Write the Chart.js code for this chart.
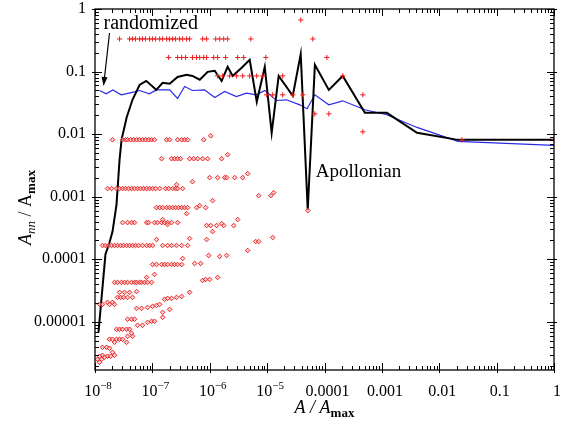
<!DOCTYPE html>
<html>
<head>
<meta charset="utf-8">
<script src="https://cdn.jsdelivr.net/npm/chart.js@4/dist/chart.umd.min.js"></script>
<style>
body{margin:0;background:#fff;}
#c{display:block;}
</style>
</head>
<body>
<canvas id="c" width="566" height="428"></canvas>
<script>
// axis ticks
var xTickVals = [1e-8, 1e-7, 1e-6, 1e-5, 1e-4, 1e-3, 1e-2, 1e-1, 1];
var xTickLabels = ['10^-8', '10^-7', '10^-6', '10^-5', '0.0001', '0.001', '0.01', '0.1', '1'];
var yTickVals = [1, 0.1, 0.01, 0.001, 0.0001, 0.00001];
var yTickLabels = ['1', '0.1', '0.01', '0.001', '0.0001', '0.00001'];

// black curve (Apollonian)
var blackX = [1.15e-8, 1.52e-8, 1.79e-8, 2.02e-8, 2.37e-8, 2.68e-8, 2.9e-8, 3.55e-8, 4.5e-8, 5.98e-8,
  7.8e-8, 1.17e-7, 1.51e-7, 2.0e-7, 2.75e-7, 3.95e-7, 5.0e-7, 6.7e-7, 9.2e-7, 1.22e-6,
  1.61e-6, 2.05e-6, 2.51e-6, 3.6e-6, 4.97e-6, 6.6e-6, 9.1e-6, 1.2e-5, 1.59e-5, 2.8e-5,
  3.85e-5, 5.1e-5, 6.8e-5, 1.19e-4, 2.08e-4, 5.05e-4, 1.22e-3, 4.1e-3, 2.12e-2, 1];
var blackY = [6.8e-6, 1.19e-4, 1.85e-4, 2.77e-4, 7.5e-4, 3.9e-3, 8.1e-3, 1.83e-2, 3.54e-2, 6.1e-2,
  7.1e-2, 5.1e-2, 6.6e-2, 6.4e-2, 8.2e-2, 8.9e-2, 8.5e-2, 7.4e-2, 9.9e-2, 0.103,
  7.1e-2, 0.119, 8.5e-2, 0.115, 0.154, 3.29e-2, 0.119, 1.05e-2, 8.5e-2, 4.1e-2,
  0.191, 6.2e-4, 0.128, 5.1e-2, 8.5e-2, 2.19e-2, 2.19e-2, 1.05e-2, 8.1e-3, 8.1e-3];

// blue curve (randomized)
var blueX = [1.2e-8, 1.57e-8, 2.05e-8, 2.86e-8, 4.29e-8, 5.98e-8, 8.9e-8, 1.17e-7, 2.0e-7, 2.75e-7,
  3.65e-7, 5.0e-7, 8.1e-7, 1.22e-6, 1.82e-6, 2.91e-6, 4.36e-6, 6.5e-6, 9.1e-6, 1.45e-5,
  2.17e-5, 3.71e-5, 4.97e-5, 6.8e-5, 1.19e-4, 2.08e-4, 5.05e-4, 1.22e-3, 4.1e-3, 2.12e-2, 1];
var blueY = [4.98e-2, 4.41e-2, 5.1e-2, 4.25e-2, 4.62e-2, 4.98e-2, 4.41e-2, 5.1e-2, 5.1e-2, 3.71e-2,
  5.77e-2, 4.98e-2, 5.1e-2, 3.85e-2, 4.8e-2, 3.99e-2, 4.52e-2, 4.25e-2, 5.0e-2, 3.45e-2,
  3.54e-2, 2.94e-2, 2.54e-2, 4.25e-2, 2.94e-2, 3.41e-2, 2.45e-2, 2.04e-2, 1.28e-2, 7.65e-3, 6.6e-3];

// red + markers, grouped by level
var plusLevels = [0.668, 0.332, 0.168, 0.0853, 0.0425, 0.0211, 0.0109, 0.0081];
var plusXByLevel = [
  [3.86e-5],
  [2.68e-8, 4.0e-8, 4.51e-8, 5.09e-8, 5.98e-8, 6.74e-8, 7.6e-8, 8.93e-8, 1.01e-7, 1.14e-7, 1.34e-7,
   1.51e-7, 1.77e-7, 2.0e-7, 2.25e-7, 2.54e-7, 2.98e-7, 3.37e-7, 3.95e-7, 4.46e-7, 7.52e-7, 8.83e-7,
   1.27e-6, 1.49e-6, 1.75e-6, 2.05e-6, 5.2e-6, 6.25e-5],
  [1.92e-7, 2.75e-7, 3.24e-7, 3.8e-7, 5.0e-7, 5.9e-7, 6.67e-7, 7.83e-7, 8.83e-7, 1.17e-6, 1.37e-6,
   1.89e-6, 3.07e-6, 3.9e-6, 9.5e-6, 1.1e-4],
  [1.37e-6, 1.68e-6, 2.22e-6, 2.94e-6, 3.75e-6, 4.97e-6, 6.58e-6, 8.4e-6, 1.87e-5, 2.08e-4],
  [9.8e-6, 1.25e-5, 1.87e-5, 2.8e-5, 4.18e-5, 4.66e-4],
  [6.78e-5, 1.19e-4],
  [4.66e-4],
  [2.49e-2, 1]
];

// red diamond markers: rows with a common level
var diamondLevels = [8.14e-3, 4.05e-3, 2.02e-3, 1.35e-3, 6.7e-4, 3.86e-4, 3.46e-4, 1.66e-4, 8.26e-5, 4.27e-5,
  2.96e-5, 2.46e-5, 2.05e-5, 1.9e-5, 1.1e-5, 7.6e-6, 5.26e-6];
var diamondXByLevel = [
  [2.02e-8, 3.02e-8, 3.4e-8, 3.69e-8, 4.17e-8, 4.7e-8, 5.3e-8, 5.98e-8, 6.74e-8, 7.6e-8, 8.58e-8, 9.68e-8,
   1.09e-7, 1.77e-7, 2.0e-7, 2.75e-7, 3.24e-7, 3.65e-7, 4.11e-7, 7.83e-7],
  [1.45e-7, 2.16e-7, 2.44e-7, 2.75e-7, 3.1e-7, 4.46e-7, 5.24e-7, 6.15e-7, 7.52e-7, 9.18e-7, 1.61e-6],
  [9.95e-7, 1.37e-6, 1.82e-6, 1.97e-6, 2.72e-6, 3.75e-6],
  [1.65e-8, 1.94e-8, 2.37e-8, 2.68e-8, 3.02e-8, 3.4e-8, 3.85e-8, 4.34e-8, 4.89e-8, 5.52e-8, 6.22e-8, 7.02e-8,
   7.92e-8, 8.93e-8, 1.01e-7, 1.14e-7, 1.34e-7, 1.7e-7, 1.92e-7, 2.25e-7, 2.54e-7, 2.75e-7, 3.37e-7],
  [1.18e-7, 1.34e-7, 1.51e-7, 1.77e-7, 2.0e-7, 2.25e-7, 2.54e-7, 2.86e-7, 3.24e-7, 3.65e-7, 4.11e-7, 5.9e-7, 8.48e-7],
  [3.02e-8, 3.69e-8, 4.34e-8, 4.89e-8, 7.92e-8, 8.58e-8, 1.09e-7, 1.23e-7, 1.45e-7, 1.63e-7, 1.84e-7, 2.16e-7, 2.75e-7],
  [8.83e-7, 1.04e-6, 1.32e-6, 1.75e-6, 2.61e-6],
  [1.35e-8, 1.52e-8, 1.72e-8, 1.94e-8, 2.19e-8, 2.47e-8, 2.79e-8, 3.14e-8, 3.55e-8, 4.0e-8, 4.51e-8, 5.09e-8,
   5.74e-8, 6.74e-8, 7.92e-8, 8.93e-8, 1.01e-7, 1.51e-7, 1.84e-7, 2.16e-7, 2.64e-7, 3.24e-7, 4.11e-7],
  [1.01e-7, 1.18e-7, 1.45e-7, 1.63e-7, 1.84e-7, 2.16e-7, 2.44e-7, 2.75e-7, 3.24e-7],
  [2.19e-8, 2.47e-8, 2.9e-8, 3.27e-8, 3.69e-8, 4.34e-8, 4.89e-8, 5.3e-8, 5.98e-8, 6.48e-8, 7.31e-8, 8.24e-8, 9.68e-8],
  [2.68e-8, 3.27e-8, 4.0e-8],
  [2.47e-8, 2.79e-8, 3.14e-8, 3.69e-8, 4.51e-8],
  [1.65e-8, 2.02e-8],
  [1.2e-8, 1.35e-8, 1.79e-8, 2.19e-8],
  [3.69e-8, 4.34e-8, 4.89e-8],
  [2.37e-8, 2.68e-8, 3.02e-8, 3.55e-8, 4.0e-8],
  [1.79e-8, 2.02e-8, 2.37e-8, 2.68e-8, 3.02e-8]
];
// red diamond markers: scattered ones
var diamondExtraX = [1.04e-6, 2.05e-6, 4.58e-6, 2.64e-7, 5.0e-7, 3.95e-7, 1.12e-6, 6.67e-7, 7.13e-6, 1.16e-5,
  1.3e-5, 1.51e-7, 1.84e-7, 1.61e-6, 3.07e-6, 1.12e-6, 1.18e-7, 4.46e-7, 8.83e-7, 6.32e-6,
  7.13e-6, 1.25e-5, 4.58e-6, 3.37e-7, 5.45e-7, 6.93e-7, 9.57e-7, 1.49e-6, 1.97e-6, 1.09e-7,
  7.92e-8, 5.3e-8, 7.52e-7, 8.48e-7, 9.95e-7, 1.37e-6, 1.63e-7, 1.84e-7, 2.16e-7, 2.64e-7,
  3.24e-7, 4.46e-7, 5.3e-8, 6.48e-8, 8.24e-8, 1.01e-7, 1.18e-7, 1.34e-7, 1.51e-7, 2.0e-7,
  1.51e-7, 5.52e-8, 6.74e-8, 8.24e-8, 9.68e-8, 1.09e-7, 4.34e-8, 3.69e-8, 4.51e-8, 2.19e-8,
  3.55e-8, 1.35e-8, 1.59e-8, 1.79e-8, 2.02e-8, 1.65e-8, 1.35e-8, 1.2e-8, 1.11e-8, 1.3e-8,
  1.47e-8, 1.87e-8, 2.19e-8, 1.2e-8, 5.12e-5];
var diamondExtraY = [9.4e-3, 4.69e-3, 2.34e-3, 1.56e-3, 1.74e-3, 5.37e-4, 8.67e-4, 7.21e-4, 1.04e-3, 1.04e-3,
  1.16e-3, 4.31e-4, 3.59e-4, 3.72e-4, 4.31e-4, 2.77e-4, 2.07e-4, 2.15e-4, 2.07e-4, 1.92e-4,
  1.92e-4, 2.23e-4, 1.38e-4, 1.03e-4, 8.57e-5, 8.57e-5, 1.15e-4, 1.11e-4, 1.15e-4, 5.73e-5,
  5.13e-5, 3.06e-5, 4.59e-5, 4.76e-5, 4.76e-5, 5.13e-5, 2.29e-5, 2.37e-5, 2.37e-5, 2.46e-5,
  2.55e-5, 2.96e-5, 1.64e-5, 1.64e-5, 1.7e-5, 1.77e-5, 1.83e-5, 1.9e-5, 1.42e-5, 1.58e-5,
  1.18e-5, 8.8e-6, 8.8e-6, 9.8e-6, 1.02e-5, 1.02e-5, 6.56e-6, 5.87e-6, 5.87e-6, 4.71e-6,
  4.71e-6, 3.92e-6, 3.92e-6, 3.78e-6, 3.26e-6, 2.82e-6, 2.92e-6, 2.82e-6, 2.52e-6, 2.52e-6,
  2.72e-6, 2.82e-6, 2.92e-6, 2.26e-6, 6.0e-4];

var SERIF = "'Liberation Serif', 'Times New Roman', serif";

function pairs(xs, ys){
  return xs.map(function(x, i){ return {x: x, y: ys[i]}; });
}
function byLevel(levels, xsList){
  var out = [];
  levels.forEach(function(lv, i){
    xsList[i].forEach(function(x){ out.push({x: x, y: lv}); });
  });
  return out;
}

var plusPts = byLevel(plusLevels, plusXByLevel);
var diamondPts = byLevel(diamondLevels, diamondXByLevel).concat(pairs(diamondExtraX, diamondExtraY));

function richWidth(ctx, parts){
  var w = 0;
  parts.forEach(function(p){ ctx.font = p.f; w += ctx.measureText(p.t).width; });
  return w;
}
function drawRich(ctx, parts, x, y){
  var cx = x - richWidth(ctx, parts) / 2;
  ctx.textAlign = 'left';
  parts.forEach(function(p){
    ctx.font = p.f;
    ctx.fillText(p.t, cx, y + (p.dy || 0));
    cx += ctx.measureText(p.t).width;
  });
}
function minorVals(min, max){
  var out = [];
  for (var e = Math.floor(Math.log10(min)); e < Math.round(Math.log10(max)); e++){
    for (var m = 2; m < 10; m++){
      var v = m * Math.pow(10, e);
      if (v >= min && v <= max) out.push(v);
    }
  }
  return out;
}

var framePlugin = {
  id: 'frame',
  afterDatasetsDraw: function(chart){
    var ctx = chart.ctx, a = chart.chartArea;
    var xs = chart.scales.x, ys = chart.scales.y;
    ctx.save();
    ctx.strokeStyle = '#000';
    ctx.fillStyle = '#000';
    ctx.lineWidth = 1.3;
    ctx.strokeRect(a.left, a.top, a.right - a.left, a.bottom - a.top);

    ctx.lineWidth = 1;
    ctx.beginPath();
    xTickVals.forEach(function(v){
      var p = Math.round(xs.getPixelForValue(v)) + 0.5;
      ctx.moveTo(p, a.bottom + 3); ctx.lineTo(p, a.bottom - 7);
      ctx.moveTo(p, a.top); ctx.lineTo(p, a.top + 7);
    });
    minorVals(xs.min, xs.max).forEach(function(v){
      var p = Math.round(xs.getPixelForValue(v)) + 0.5;
      ctx.moveTo(p, a.bottom); ctx.lineTo(p, a.bottom - 4);
      ctx.moveTo(p, a.top); ctx.lineTo(p, a.top + 4);
    });
    yTickVals.forEach(function(v){
      var p = Math.round(ys.getPixelForValue(v)) + 0.5;
      ctx.moveTo(a.left - 3, p); ctx.lineTo(a.left + 7, p);
      ctx.moveTo(a.right + 3, p); ctx.lineTo(a.right - 7, p);
    });
    minorVals(ys.min, ys.max).forEach(function(v){
      var p = Math.round(ys.getPixelForValue(v)) + 0.5;
      ctx.moveTo(a.left, p); ctx.lineTo(a.left + 4, p);
      ctx.moveTo(a.right, p); ctx.lineTo(a.right - 4, p);
    });
    ctx.stroke();

    // tick labels
    ctx.textBaseline = 'alphabetic';
    xTickVals.forEach(function(v, i){
      var p = xs.getPixelForValue(v);
      var lab = xTickLabels[i];
      var parts;
      if (lab.indexOf('^') >= 0){
        var s = lab.split('^');
        parts = [{t: s[0], f: '16px ' + SERIF}, {t: s[1].replace('-', '\u2212'), f: '11px ' + SERIF, dy: -7}];
      } else {
        parts = [{t: lab, f: '16px ' + SERIF}];
      }
      drawRich(ctx, parts, p + 3, a.bottom + 26);
    });
    ctx.font = '16px ' + SERIF;
    ctx.textAlign = 'right';
    ctx.textBaseline = 'middle';
    yTickVals.forEach(function(v, i){
      ctx.fillText(yTickLabels[i], a.left - 9, ys.getPixelForValue(v));
    });

    // axis titles
    ctx.textBaseline = 'alphabetic';
    drawRich(ctx, [
      {t: 'A', f: 'italic 18px ' + SERIF},
      {t: ' / ', f: 'italic 18px ' + SERIF},
      {t: 'A', f: 'italic 18px ' + SERIF},
      {t: 'max', f: 'bold 13px ' + SERIF, dy: 4}
    ], (a.left + a.right) / 2, a.bottom + 43);

    ctx.save();
    ctx.translate(31, (a.top + a.bottom) / 2 + 18);
    ctx.rotate(-Math.PI / 2);
    drawRich(ctx, [
      {t: 'A', f: 'italic 18px ' + SERIF},
      {t: 'nn', f: 'italic 13px ' + SERIF, dy: 4},
      {t: ' / ', f: '18px ' + SERIF},
      {t: 'A', f: '18px ' + SERIF},
      {t: 'max', f: 'bold 13px ' + SERIF, dy: 4}
    ], 0, 0);
    ctx.restore();

    // annotations
    ctx.textAlign = 'left';
    ctx.font = '20px ' + SERIF;
    ctx.fillText('randomized', xs.getPixelForValue(1.41e-8), ys.getPixelForValue(0.48));
    ctx.font = '19px ' + SERIF;
    ctx.fillText('Apollonian', xs.getPixelForValue(7.05e-5), ys.getPixelForValue(2.09e-3));

    var tx = xs.getPixelForValue(1.79e-8), ty = ys.getPixelForValue(0.414);
    var hx = xs.getPixelForValue(1.41e-8), hy = ys.getPixelForValue(0.059);
    var ang = Math.atan2(hy - ty, hx - tx);
    ctx.lineWidth = 1.2;
    ctx.beginPath();
    ctx.moveTo(tx, ty);
    ctx.lineTo(hx - 6 * Math.cos(ang), hy - 6 * Math.sin(ang));
    ctx.stroke();
    ctx.beginPath();
    ctx.moveTo(hx, hy);
    ctx.lineTo(hx - 9 * Math.cos(ang) + 3 * Math.sin(ang), hy - 9 * Math.sin(ang) - 3 * Math.cos(ang));
    ctx.lineTo(hx - 9 * Math.cos(ang) - 3 * Math.sin(ang), hy - 9 * Math.sin(ang) + 3 * Math.cos(ang));
    ctx.closePath();
    ctx.fill();
    ctx.restore();
  }
};

new Chart(document.getElementById('c'), {
  type: 'scatter',
  data: {
    datasets: [
      {label: 'plus', data: plusPts, pointStyle: 'cross', pointRadius: 2.6, borderColor: '#f01c1c',
        borderWidth: 1, order: 1},
      {label: 'diamond', data: diamondPts, pointStyle: 'rectRot', pointRadius: 2.3,
        borderColor: '#e82222', backgroundColor: 'rgba(250,170,170,0.55)', borderWidth: 1, order: 1},
      {label: 'Apollonian', data: pairs(blackX, blackY), showLine: true, borderColor: '#000',
        borderWidth: 2, pointRadius: 0, order: 2},
      {label: 'randomized', data: pairs(blueX, blueY), showLine: true, borderColor: '#2a2ae6',
        borderWidth: 1.2, pointRadius: 0, order: 3}
    ]
  },
  options: {
    responsive: false,
    animation: false,
    layout: {padding: {top: 9, right: 12, left: 0, bottom: 0}},
    plugins: {legend: {display: false}, tooltip: {enabled: false}},
    scales: {
      x: {type: 'logarithmic', min: 1e-8, max: 1, ticks: {display: false}, grid: {display: false},
        border: {display: false}, afterFit: function(s){ s.height = 58; }},
      y: {type: 'logarithmic', min: 1.7e-6, max: 1, ticks: {display: false}, grid: {display: false},
        border: {display: false}, afterFit: function(s){ s.width = 95; }}
    }
  },
  plugins: [framePlugin]
});
</script>
</body>
</html>
